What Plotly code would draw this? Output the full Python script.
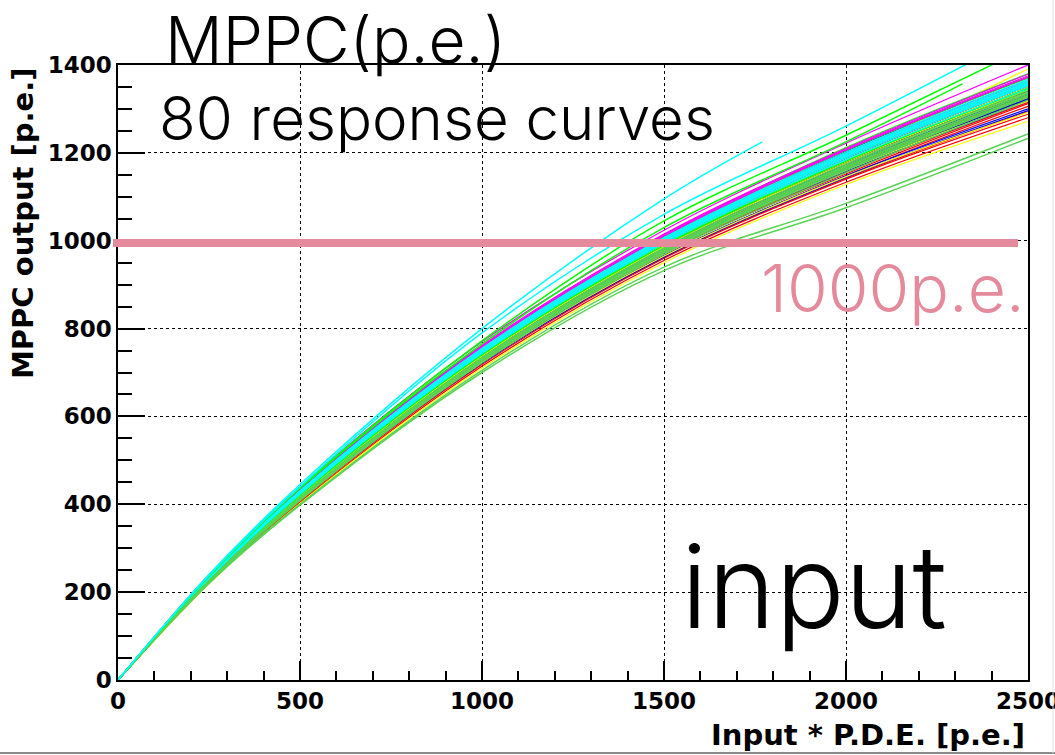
import plotly.graph_objects as go

# ---------------- data ----------------
x_pts = [0, 250, 500, 1000, 1500, 2000, 2500]

# y at x = 250, 500, 1000, 1500, 2000, 2500 for the main bundle of curves
bundle_y = [
    [231, 425, 750, 1003, 1203, 1372], [227, 415, 728, 972, 1156, 1315],
    [235, 432, 756, 1012, 1212, 1380], [224, 412, 724, 966, 1148, 1300],
    [233, 428, 748, 998, 1192, 1391], [240, 440, 770, 1024, 1222, 1400],
    [232, 427, 750, 1002, 1196, 1360], [226, 414, 731, 980, 1170, 1334],
    [228, 418, 735, 982, 1166, 1330], [220, 404, 714, 955, 1133, 1280],
    [233, 429, 752, 1004, 1199, 1363], [229, 420, 738, 985, 1172, 1340],
    [219, 402, 710, 950, 1128, 1272], [238, 436, 762, 1015, 1210, 1379],
    [231, 424, 746, 996, 1188, 1352], [223, 410, 725, 972, 1160, 1326],
    [226, 416, 733, 980, 1162, 1322], [222, 407, 718, 960, 1140, 1288],
    [234, 431, 754, 1008, 1205, 1370], [227, 417, 732, 977, 1158, 1318],
    [230, 422, 742, 991, 1182, 1344], [236, 434, 758, 1010, 1206, 1372],
    [232, 426, 749, 999, 1193, 1356], [225, 413, 729, 978, 1168, 1336],
    [230, 423, 744, 994, 1186, 1350], [225, 412, 725, 966, 1148, 1306],
    [231, 424, 745, 995, 1189, 1353], [223, 409, 721, 963, 1144, 1296],
    [224, 411, 723, 965, 1146, 1292], [237, 435, 760, 1013, 1208, 1375],
    [233, 428, 751, 1003, 1197, 1361], [227, 416, 734, 984, 1175, 1342],
    [229, 421, 739, 988, 1177, 1336], [228, 419, 736, 984, 1170, 1326],
    [232, 426, 747, 997, 1190, 1355], [226, 415, 730, 975, 1160, 1322],
    [228, 418, 737, 986, 1176, 1338], [235, 432, 755, 1006, 1200, 1366],
    [234, 430, 753, 1005, 1199, 1364], [224, 411, 727, 975, 1164, 1330],
    [231, 424, 746, 997, 1190, 1357], [226, 414, 729, 973, 1152, 1312],
    [229, 420, 740, 989, 1181, 1347], [230, 421, 741, 990, 1179, 1342],
    [231, 425, 745, 994, 1185, 1350], [234, 431, 753, 1004, 1197, 1362],
    [233, 429, 752, 1002, 1195, 1358], [226, 415, 733, 982, 1172, 1339],
    [227, 417, 734, 981, 1165, 1324], [229, 420, 739, 987, 1176, 1337],
    [236, 433, 758, 1011, 1207, 1371], [228, 419, 737, 984, 1171, 1333],
    [232, 427, 748, 999, 1192, 1358], [233, 428, 750, 1001, 1194, 1357],
    [230, 423, 743, 993, 1184, 1346], [222, 408, 722, 969, 1155, 1320],
    [232, 426, 748, 1000, 1194, 1359], [224, 411, 722, 962, 1142, 1294],
    [230, 422, 742, 992, 1183, 1345], [229, 419, 738, 986, 1174, 1336],
    [226, 415, 731, 976, 1160, 1318], [231, 424, 745, 996, 1188, 1352],
    [235, 431, 755, 1007, 1202, 1367], [225, 412, 728, 976, 1166, 1331],
    [228, 419, 738, 987, 1178, 1341], [230, 421, 741, 989, 1178, 1339],
    [233, 428, 750, 1001, 1196, 1361], [227, 416, 733, 979, 1163, 1325],
    [229, 420, 740, 989, 1180, 1343], [232, 427, 749, 1000, 1195, 1360],
    [231, 425, 746, 997, 1191, 1354], [224, 410, 726, 973, 1162, 1328],
    [229, 421, 740, 990, 1182, 1346], [227, 417, 735, 982, 1168, 1331],
]

root_colors = ["#000000", "#ff0000", "#00ff00", "#0000ff",
               "#ffff00", "#ff00ff", "#00ffff", "#59d454"]
# order in which colour groups are drawn (last one ends up on top)
draw_order = [0, 1, 3, 4, 2, 5, 6, 7]

# special curves (own x ranges)
short_cyan_x = [0, 250, 500, 1000, 1500, 1770]
short_cyan_y = [0, 240, 445, 800, 1095, 1225]
long_cyan_y = [0, 238, 440, 790, 1060, 1261, 1475]
top_green_y = [0, 237, 438, 772, 1045, 1240, 1440]
second_green_x = [0, 250, 500, 1000, 1500, 2000, 2320]
second_green_y = [0, 236, 436, 765, 1030, 1225, 1357]
low_green1_y = [0, 222, 400, 705, 940, 1085, 1243]
low_green2_y = [0, 220, 398, 700, 932, 1075, 1233]

threshold_value = 995
threshold_label = "1000p.e."

x_title = "Input * P.D.E. [p.e.]"
y_title = "MPPC output [p.e.]"

# ---------------- figure ----------------
fig = go.Figure()

LW = 1.2
for ci in draw_order:
    for i, row in enumerate(bundle_y):
        if i % 8 != ci:
            continue
        fig.add_trace(go.Scatter(x=x_pts, y=[0] + row, mode="lines",
                                 line=dict(color=root_colors[ci], width=LW, shape="spline"),
                                 showlegend=False, hoverinfo="skip"))

specials = [
    (x_pts, low_green1_y, "#59d454"),
    (x_pts, low_green2_y, "#59d454"),
    (second_green_x, second_green_y, "#00ff00"),
    (x_pts, top_green_y, "#00ff00"),
    (x_pts, long_cyan_y, "#00ffff"),
    (short_cyan_x, short_cyan_y, "#00ffff"),
]
for xs, ys, c in specials:
    fig.add_trace(go.Scatter(x=xs, y=ys, mode="lines",
                             line=dict(color=c, width=1.5, shape="spline"),
                             showlegend=False, hoverinfo="skip"))

W, H = 1055, 755
L, R, T, B = 118, 27, 65, 75
PW, PH = W - L - R, H - T - B


def px(xp):
    return (xp - L) / PW


def py(yp):
    return (H - B - yp) / PH


tickfont = dict(family="DejaVu Sans", size=23, color="black", weight="bold")
axis_common = dict(showline=True, linecolor="black", linewidth=1.5, mirror=True,
                   ticks="inside", tickcolor="black", tickwidth=1.5,
                   showgrid=True, gridcolor="black", griddash="dot", gridwidth=1,
                   zeroline=False, tickfont=tickfont, ticklabeloverflow="allow",
                   automargin=False)

fig.update_xaxes(range=[0, 2500], dtick=500, ticklen=19,
                 minor=dict(dtick=100, ticklen=9, ticks="inside", tickcolor="black",
                            tickwidth=1.5, showgrid=False),
                 **axis_common)
fig.update_yaxes(range=[0, 1400], dtick=200, ticklen=27,
                 minor=dict(dtick=50, ticklen=14, ticks="inside", tickcolor="black",
                            tickwidth=1.5, showgrid=False),
                 **axis_common)

# threshold line (hand-drawn style, slightly beyond the frame on the left)
fig.add_shape(type="line", xref="paper", yref="y",
              x0=px(113), x1=px(1018), y0=threshold_value, y1=threshold_value,
              line=dict(color="#e48a9c", width=8), layer="above")

# screenshot frame edges
fig.add_shape(type="line", xref="paper", yref="paper", x0=px(0), x1=px(1055),
              y0=py(753), y1=py(753), line=dict(color="#8a8a8a", width=2))
fig.add_shape(type="line", xref="paper", yref="paper", x0=px(1053), x1=px(1053),
              y0=py(0), y1=py(753), line=dict(color="#e0e0e0", width=1))

ann_font = "Inter"
annotations = [
    dict(text="MPPC(p.e.)", x=px(163), y=py(40), xanchor="left", yanchor="middle",
         font=dict(family=ann_font, size=64, color="black", weight=300)),
    dict(text="80 response curves", x=px(157), y=py(118), xanchor="left", yanchor="middle",
         font=dict(family=ann_font, size=60, color="black", weight=300)),
    dict(text="input", x=px(679), y=py(586), xanchor="left", yanchor="middle",
         font=dict(family=ann_font, size=115, color="black", weight=300)),
    dict(text=threshold_label, x=px(759), y=py(288), xanchor="left", yanchor="middle",
         font=dict(family=ann_font, size=66, color="#e48a9c", weight=300)),
    dict(text=x_title, x=px(1027), y=py(735), xanchor="right", yanchor="middle",
         font=dict(family="DejaVu Sans", size=29, color="black", weight="bold")),
    dict(text=y_title, x=px(23), y=py(223), xanchor="center", yanchor="middle",
         textangle=-90,
         font=dict(family="DejaVu Sans", size=29, color="black", weight="bold")),
]
for a in annotations:
    a.update(xref="paper", yref="paper", showarrow=False)

fig.update_layout(width=W, height=H,
                  margin=dict(l=L, r=R, t=T, b=B, autoexpand=False),
                  paper_bgcolor="white", plot_bgcolor="white",
                  annotations=annotations, showlegend=False)

fig.write_html("out.html")
